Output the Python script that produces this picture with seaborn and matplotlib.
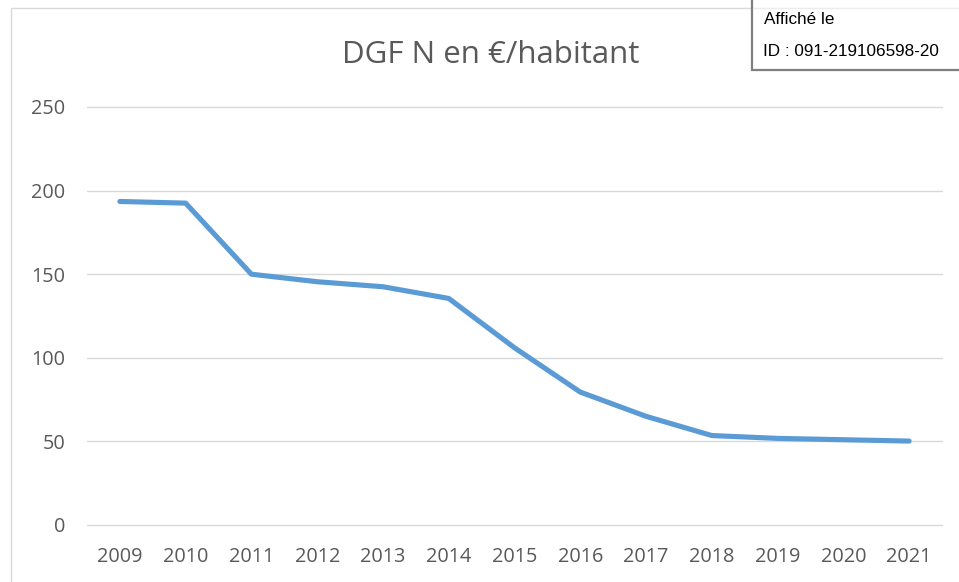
import matplotlib
matplotlib.use("Agg")
import matplotlib.pyplot as plt
import seaborn as sns
import pandas as pd
from matplotlib.patches import Rectangle
from matplotlib.lines import Line2D

years = [2009, 2010, 2011, 2012, 2013, 2014, 2015, 2016, 2017, 2018, 2019, 2020, 2021]
values = [193.5, 192.5, 150.0, 145.5, 142.5, 135.5, 106.0, 79.5, 65.0, 53.5, 51.8, 51.0, 50.2]
yticks = [0, 50, 100, 150, 200, 250]
title = "DGF N en €/habitant"
stamp_lines = ["Affiché le", "ID : 091-219106598-20"]

df = pd.DataFrame({"year": years, "value": values})

sns.set_theme(style="white")
plt.rcParams["font.family"] = ["Open Sans", "DejaVu Sans"]

W, H = 959, 582
fig = plt.figure(figsize=(W / 100, H / 100), dpi=100)
fig.patch.set_facecolor("white")

# chart border (light gray)
fig.add_artist(Rectangle((11 / W, -0.05), 1.2, (H - 8) / H + 0.05, transform=fig.transFigure,
                         fill=False, edgecolor="#d9d9d9", linewidth=1.0))

ax = fig.add_axes([87 / W, 1 - 525 / H, (942 - 87) / W, (525 - 107) / H])
ax.set_facecolor("none")
sns.lineplot(data=df, x="year", y="value", ax=ax, color="#5b9bd5", linewidth=3.7,
             solid_capstyle="round", solid_joinstyle="round", clip_on=False, zorder=3)

ax.set_xlim(years[0] - 0.5, years[-1] + 0.5)
ax.set_ylim(0, 250)
ax.set_yticks(yticks)
ax.set_xticks(years)
ax.set_xticklabels([str(y) for y in years])
ax.yaxis.grid(True, color="#d9d9d9", linewidth=1.0)
ax.xaxis.grid(False)
ax.set_axisbelow(True)
for gl in ax.yaxis.get_gridlines():
    gl.set_clip_on(False)
for s in ax.spines.values():
    s.set_visible(False)
ax.tick_params(axis="both", length=0, labelsize=14.3, labelcolor="#595959")
ax.tick_params(axis="y", pad=15.5)
ax.tick_params(axis="x", pad=16)
ax.set_xlabel("")
ax.set_ylabel("")

fig.text(491 / W, 1 - 55 / H, title, ha="center", va="center", fontsize=22.5, color="#595959")

# stamp box top-right
fig.add_artist(Rectangle((752 / W, 1 - 70 / H), 0.5, 0.5, transform=fig.transFigure,
                         facecolor="white", edgecolor="#7f7f7f", linewidth=1.6, zorder=10))
fig.add_artist(Line2D([753 / W, 1], [1 - 8 / H, 1 - 8 / H], transform=fig.transFigure,
                      color="#ececec", linewidth=1.0, zorder=11))
fig.text(764 / W, 1 - 20 / H, stamp_lines[0], ha="left", va="center", fontsize=12.3,
         color="black", family=["Liberation Sans", "DejaVu Sans"], zorder=12)
fig.text(763 / W, 1 - 51 / H, stamp_lines[1], ha="left", va="center", fontsize=12.3,
         color="black", family=["Liberation Sans", "DejaVu Sans"], zorder=12)

fig.savefig("out.png", dpi=100)
